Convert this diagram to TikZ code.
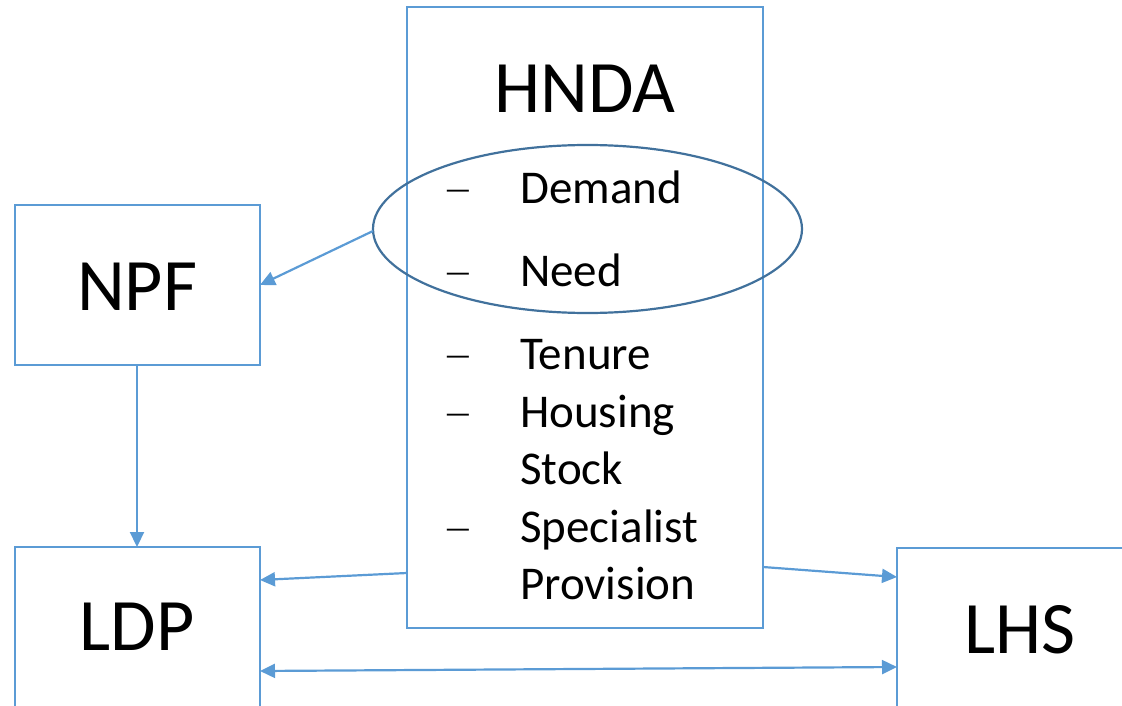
\documentclass[tikz,border=0pt]{standalone}
\usepackage{fontspec}
\setmainfont{Carlito}
\usetikzlibrary{arrows.meta}
\definecolor{boxblue}{HTML}{5B9BD5}
\definecolor{ellblue}{HTML}{41719C}
\tikzset{
  box/.style={draw=boxblue, line width=1.8pt},
  conn/.style={draw=boxblue, line width=2.2pt, -{Triangle[length=15pt,width=14pt]}},
  biconn/.style={draw=boxblue, line width=2.2pt, {Triangle[length=15pt,width=14pt]}-{Triangle[length=15pt,width=14pt]}},
  big/.style={font=\fontsize{74}{78}\selectfont, inner sep=0pt, anchor=base},
  item/.style={font=\fontsize{47}{52}\selectfont, inner sep=0pt, anchor=base west},
  dsh/.style={font=\fontsize{30}{34}\selectfont, inner sep=0pt, anchor=base},
}
\begin{document}
\begin{tikzpicture}[x=1pt,y=-1pt]
\useasboundingbox (0,0) rectangle (1122,706);
% boxes
\draw[box] (407,7) rectangle (763,628);
\draw[box] (15,205) rectangle (260,365);
\draw[box] (15,710) -- (15,547) -- (260,547) -- (260,710);
\draw[box] (897,710) -- (897,548) -- (1125,548);
\node[big] (hndat) at (585,113) {HNDA};
\node[big] (npft) at (137,310) {NPF};
\node[big] (ldpt) at (137,650) {LDP};
\node[big] (lhst) at (1020,653) {LHS};
% ellipse
\draw[draw=ellblue, line width=2.2pt] (587.5,229) ellipse [x radius=214.5, y radius=84];
\coordinate (ellL) at (373,231);
% list
\foreach \y in {203, 286, 369, 427, 542}{
  \node[dsh] at (458,\y-4) {—};
}
\node[item] (d) at (520,203) {Demand};
\node[item] (n) at (520,286) {Need};
\node[item] (t) at (520,369) {Tenure};
\node[item] (h) at (520,427) {Housing};
\node[item] (s) at (520,484) {Stock};
\node[item] (sp) at (520,542) {Specialist};
\node[item] (pr) at (520,599) {Provision};
% connectors
\coordinate (npfR) at (260,285);
\coordinate (npfB) at (137,365);
\coordinate (ldpT) at (137,547);
\coordinate (hL) at (407,573);
\coordinate (ldpR) at (260,580);
\coordinate (hR) at (763,567);
\coordinate (lhsL) at (897,577);
\coordinate (ldpR2) at (260,671);
\coordinate (lhsL2) at (897,667);
\draw[conn] (ellL) -- (npfR);
\draw[conn] (npfB) -- (ldpT);
\draw[conn] (hL) -- (ldpR);
\draw[conn] (hR) -- (lhsL);
\draw[biconn] (ldpR2) -- (lhsL2);
\end{tikzpicture}
\end{document}
